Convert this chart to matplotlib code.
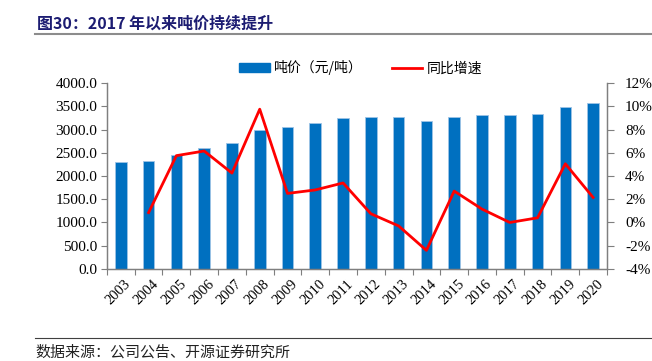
import matplotlib.pyplot as plt
import numpy as np
from matplotlib.lines import Line2D

plt.rcParams['font.family'] = ['Liberation Serif', 'Noto Sans CJK SC']

# -----------------------------
# Data
# -----------------------------
years = ['2003', '2004', '2005', '2006', '2007', '2008', '2009', '2010', '2011',
         '2012', '2013', '2014', '2015', '2016', '2017', '2018', '2019', '2020']
price = [2300, 2320, 2455, 2605, 2715, 2985, 3055, 3135, 3250,
         3275, 3260, 3180, 3265, 3310, 3310, 3325, 3490, 3565]
growth = [np.nan, 0.85, 5.75, 6.15, 4.25, 9.75, 2.5, 2.8, 3.4,
          0.75, -0.3, -2.4, 2.7, 1.15, 0.0, 0.4, 5.05, 2.15]

navy = '#1c1c72'
blue = '#0070c0'
cjk = ['Noto Sans CJK SC', 'Liberation Serif']

# -----------------------------
# Figure
# -----------------------------
fig = plt.figure(figsize=(6.52, 3.61), dpi=100)
ax = fig.add_axes([0.164, 0.255, 0.767, 0.515])
ax2 = ax.twinx()

x = np.arange(len(years))
ax.bar(x, price, width=0.42, color=blue, edgecolor='#9dc3e6', linewidth=0.6, zorder=2)
ax2.plot(x, growth, color='#ff0000', linewidth=2, zorder=3)

ax.set_xlim(-0.5, len(years) - 0.5)
ax.set_ylim(0, 4000)
ax.set_yticks(np.arange(0, 4001, 500))
ax.set_yticklabels([f'{v:.1f}' for v in np.arange(0, 4001, 500)], fontsize=11)
ax2.set_ylim(-4, 12)
ax2.set_yticks(np.arange(-4, 13, 2))
ax2.set_yticklabels([f'{v}%' for v in range(-4, 13, 2)], fontsize=11)

# x ticks between categories
ax.set_xticks(np.arange(-0.5, len(years), 1), minor=False)
ax.set_xticklabels([''] * (len(years) + 1))
ax.set_xticks(x + 0.12, minor=True)
ax.set_xticklabels(years, minor=True, rotation=45, fontsize=10.5, ha='right',
                   va='top', rotation_mode='anchor')
ax.tick_params(axis='x', which='minor', length=0, pad=6)
ax.tick_params(axis='x', which='major', length=4, direction='out', color='#7f7f7f')
ax.tick_params(axis='y', length=4, direction='out', color='#7f7f7f', pad=3)
ax2.tick_params(axis='y', length=5, direction='out', color='#7f7f7f', pad=8)

for a in (ax, ax2):
    a.spines['top'].set_visible(False)
    for s in ('left', 'right', 'bottom'):
        a.spines[s].set_color('#7f7f7f')
        a.spines[s].set_linewidth(0.9)

# -----------------------------
# Legend
# -----------------------------
handles = [plt.Rectangle((0, 0), 1, 1, color=blue),
           Line2D([0], [0], color='#ff0000', linewidth=2)]
leg = fig.legend(handles, ['吨价（元/吨）', '同比增速'], loc='center',
                 bbox_to_anchor=(0.553, 0.812), ncol=2, frameon=False,
                 prop={'family': cjk, 'size': 10}, handlelength=2.2,
                 handleheight=0.6, columnspacing=2.1, handletextpad=0.3)

# -----------------------------
# Title & source
# -----------------------------
fig.text(0.057, 0.935, '图30：2017 年以来吨价持续提升', family=cjk, fontsize=11.5,
         fontweight='bold', color=navy, va='center')
fig.add_artist(Line2D([0.054, 1.0], [0.905, 0.905], color='#8c8c8c', linewidth=1.5))
fig.add_artist(Line2D([0.054, 1.0], [0.065, 0.065], color='#404040', linewidth=0.8))
fig.text(0.054, 0.025, '数据来源：公司公告、开源证券研究所', family=cjk, fontsize=10.8,
         color='#222222', va='center')

fig.savefig('out.png', dpi=100)
